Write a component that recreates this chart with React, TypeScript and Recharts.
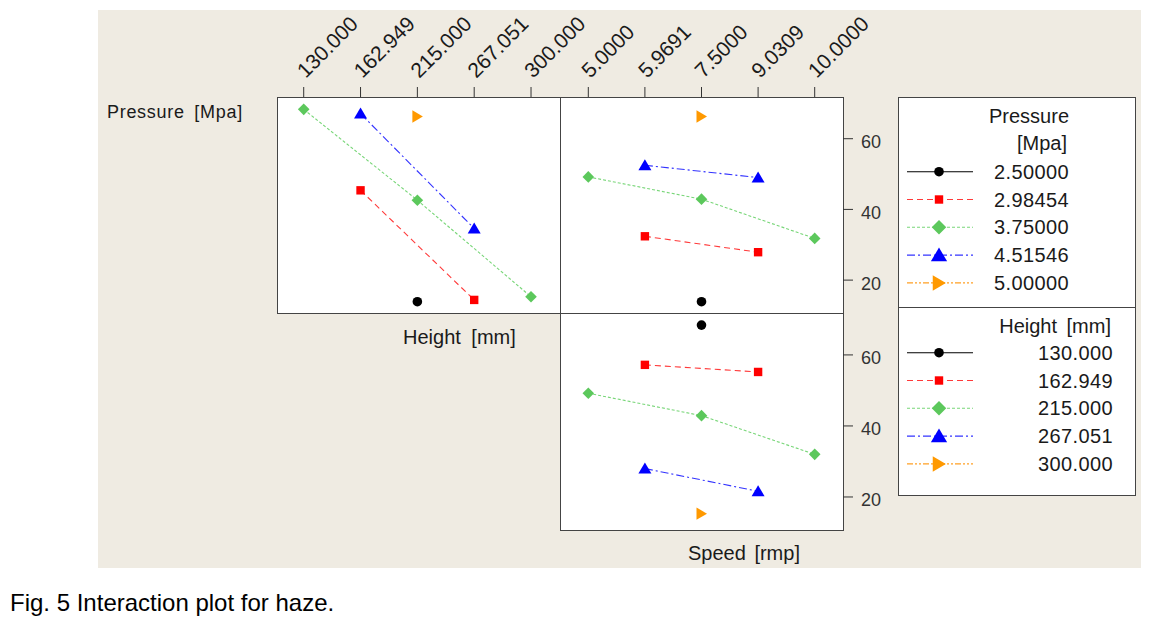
import { Line, LineChart, XAxis, YAxis } from "recharts";

const W = 1158;
const H = 630;
const FONT = '"Liberation Sans", Arial, sans-serif';

// tick labels
const heightTicks = ["130.000", "162.949", "215.000", "267.051", "300.000"];
const speedTicks = ["5.0000", "5.9691", "7.5000", "9.0309", "10.0000"];
const yTicks = [20, 40, 60];

// trace levels
const pressureLevels = ["2.50000", "2.98454", "3.75000", "4.51546", "5.00000"];
const heightLevels = ["130.000", "162.949", "215.000", "267.051", "300.000"];

// haze means, Height on x, one list per Pressure level
const hzHeightP250 = [null, null, 13.9, null, null];
const hzHeightP298 = [null, 45.4, null, 14.4, null];
const hzHeightP375 = [68.3, null, 42.6, null, 15.3];
const hzHeightP452 = [null, 67.1, null, 34.6, null];
const hzHeightP500 = [null, null, 66.3, null, null];

// haze means, Speed on x, one list per Pressure level
const hzSpeedP250 = [null, null, 13.9, null, null];
const hzSpeedP298 = [null, 32.4, null, 27.9, null];
const hzSpeedP375 = [49.2, null, 42.9, null, 31.8];
const hzSpeedP452 = [null, 52.5, null, 49.0, null];
const hzSpeedP500 = [null, null, 66.3, null, null];

// haze means, Speed on x, one list per Height level
const hzSpeedH130 = [null, null, 68.4, null, null];
const hzSpeedH163 = [null, 57.2, null, 55.2, null];
const hzSpeedH215 = [49.2, null, 42.9, null, 32.0];
const hzSpeedH267 = [null, 28.0, null, 21.6, null];
const hzSpeedH300 = [null, null, 15.3, null, null];

type Shape = "circle" | "square" | "diamond" | "triUp" | "triRight";

const STYLES: { marker: string; line: string; dash?: string; shape: Shape }[] = [
  { marker: "#000000", line: "#000000", shape: "circle" },
  { marker: "#ff0000", line: "#ff3a3a", dash: "6 4", shape: "square" },
  { marker: "#5cc85c", line: "#78d678", dash: "3 2", shape: "diamond" },
  { marker: "#0000ff", line: "#3434ff", dash: "8 3 2 3", shape: "triUp" },
  { marker: "#ff9900", line: "#ffa024", dash: "6 2 2 2 2 2", shape: "triRight" },
];

const Y_DOMAIN: [number, number] = [10.7, 71.8];

function buildRows(series: (number | null)[][]) {
  return [0, 1, 2, 3, 4].map((x) => {
    const row: Record<string, number | null> = { x };
    series.forEach((s, i) => (row[`s${i}`] = s[x]));
    return row;
  });
}

function Marker({ cx, cy, shape, color, k = 1 }: { cx: number; cy: number; shape: Shape; color: string; k?: number }) {
  if (shape === "circle") return <circle cx={cx} cy={cy} r={4.8} fill={color} />;
  if (shape === "square") return <rect x={cx - 4.2} y={cy - 4.2} width={8.4} height={8.4} fill={color} />;
  if (shape === "diamond") {
    const d = 5.8 * k;
    return <polygon points={`${cx},${cy - d} ${cx + d},${cy} ${cx},${cy + d} ${cx - d},${cy}`} fill={color} />;
  }
  if (shape === "triUp") {
    return (
      <polygon
        points={`${cx},${cy - 6 * k} ${cx + 6.5 * k},${cy + 5 * k} ${cx - 6.5 * k},${cy + 5 * k}`}
        fill={color}
      />
    );
  }
  return (
    <polygon
      points={`${cx + 5.5 * k},${cy} ${cx - 5 * k},${cy - 6.2 * k} ${cx - 5 * k},${cy + 6.2 * k}`}
      fill={color}
    />
  );
}

// eslint-disable-next-line @typescript-eslint/no-explicit-any
function RotTick({ x, y, payload, labels }: any) {
  const sx = x + 2;
  const sy = y - 6;
  return (
    <text
      x={sx}
      y={sy}
      transform={`rotate(-45 ${sx} ${sy})`}
      textAnchor="start"
      fontSize={21}
      fontFamily={FONT}
      fill="#1a1a1a"
    >
      {labels[payload.value]}
    </text>
  );
}

// eslint-disable-next-line @typescript-eslint/no-explicit-any
function RightTick({ x, y, payload }: any) {
  return (
    <text x={x} y={y + 3} dy="0.36em" textAnchor="start" fontSize={18} fontFamily={FONT} fill="#333">
      {payload.value}
    </text>
  );
}

interface Rect {
  x: number;
  y: number;
  w: number;
  h: number;
}

const TL: Rect = { x: 277, y: 97, w: 283, h: 216 };
const TR: Rect = { x: 560, y: 97, w: 283, h: 216 };
const BR: Rect = { x: 560, y: 313, w: 283, h: 217 };

function Frame({ r }: { r: Rect }) {
  return (
    <div
      style={{
        position: "absolute",
        left: r.x,
        top: r.y,
        width: r.w + 1,
        height: r.h + 1,
        boxSizing: "border-box",
        border: "1px solid #444",
        background: "#fff",
      }}
    />
  );
}

function Panel({
  r,
  series,
  labels,
  xDomain,
  showTop,
  showRight,
}: {
  r: Rect;
  series: (number | null)[][];
  labels: string[];
  xDomain: [number, number];
  showTop: boolean;
  showRight: boolean;
}) {
  const data = buildRows(series);
  const axH = 20;
  const axW = 40;
  return (
    <div style={{ position: "absolute", left: 0, top: 0 }}>
      <LineChart
        width={W}
        height={H}
        data={data}
        margin={{
          top: r.y - (showTop ? axH : 0),
          left: r.x,
          right: W - r.x - r.w - (showRight ? axW : 0),
          bottom: H - r.y - r.h,
        }}
      >
        <XAxis
          type="number"
          dataKey="x"
          orientation="top"
          domain={xDomain}
          ticks={[0, 1, 2, 3, 4]}
          interval={0}
          hide={!showTop}
          height={axH}
          axisLine={false}
          stroke="#333"
          tickSize={10}
          tickMargin={2}
          tick={<RotTick labels={labels} />}
          allowDataOverflow
        />
        <YAxis
          type="number"
          orientation="right"
          domain={Y_DOMAIN}
          ticks={yTicks}
          hide={!showRight}
          width={axW}
          axisLine={false}
          stroke="#333"
          tickSize={10}
          tickMargin={8}
          tick={<RightTick />}
          allowDataOverflow
        />
        {series.map((_, i) => {
          const st = STYLES[i];
          return (
            <Line
              key={i}
              type="linear"
              dataKey={`s${i}`}
              stroke={st.line}
              strokeWidth={1.1}
              strokeDasharray={st.dash}
              connectNulls
              isAnimationActive={false}
              activeDot={false}
              // eslint-disable-next-line @typescript-eslint/no-explicit-any
              dot={(p: any) =>
                p.cy == null || p.value == null ? (
                  <g key={`e${i}-${p.index}`} />
                ) : (
                  <Marker key={`d${i}-${p.index}`} cx={p.cx} cy={p.cy} shape={st.shape} color={st.marker} />
                )
              }
            />
          );
        })}
      </LineChart>
    </div>
  );
}

function LegendBox({
  x,
  y,
  w,
  h,
  titles,
  levels,
  rowY,
  textX,
  anchor,
}: {
  x: number;
  y: number;
  w: number;
  h: number;
  titles: { text: string; x: number; y: number }[];
  levels: string[];
  rowY: number;
  textX: number;
  anchor: "start" | "end";
}) {
  return (
    <g fontFamily={FONT} fill="#1a1a1a">
      <rect x={x + 0.5} y={y + 0.5} width={w} height={h} fill="#fff" stroke="#444" />
      {titles.map((t) => (
        <text key={t.text} x={t.x} y={t.y} textAnchor="end" fontSize={20} style={{ wordSpacing: 4 }}>
          {t.text}
        </text>
      ))}
      {levels.map((lv, i) => {
        const st = STYLES[i];
        const cy = rowY + i * 27.8;
        return (
          <g key={lv}>
            <line x1={907} x2={973} y1={cy} y2={cy} stroke={st.line} strokeWidth={1.1} strokeDasharray={st.dash} />
            <Marker cx={939} cy={cy} shape={st.shape} color={st.marker} k={1.25} />
            <text x={textX} y={cy + 7} textAnchor={anchor} fontSize={20} letterSpacing={0.4}>
              {lv}
            </text>
          </g>
        );
      })}
    </g>
  );
}

export default function App() {
  return (
    <div style={{ position: "absolute", left: 0, top: 0, width: W, height: H, background: "#fff", fontFamily: FONT }}>
      <div style={{ position: "absolute", left: 98, top: 10, width: 1043, height: 558, background: "#efebe2" }} />
      <Frame r={TL} />
      <Frame r={TR} />
      <Frame r={BR} />
      <Panel
        r={TL}
        series={[hzHeightP250, hzHeightP298, hzHeightP375, hzHeightP452, hzHeightP500]}
        labels={heightTicks}
        xDomain={[-0.47, 4.51]}
        showTop
        showRight={false}
      />
      <Panel
        r={TR}
        series={[hzSpeedP250, hzSpeedP298, hzSpeedP375, hzSpeedP452, hzSpeedP500]}
        labels={speedTicks}
        xDomain={[-0.5, 4.5]}
        showTop
        showRight
      />
      <Panel
        r={BR}
        series={[hzSpeedH130, hzSpeedH163, hzSpeedH215, hzSpeedH267, hzSpeedH300]}
        labels={speedTicks}
        xDomain={[-0.5, 4.5]}
        showTop={false}
        showRight
      />
      <svg width={W} height={H} style={{ position: "absolute", left: 0, top: 0 }}>
        <text x={107} y={118} fontSize={18} letterSpacing={0.7} fontFamily={FONT} fill="#1a1a1a" style={{ wordSpacing: 4 }}>
          Pressure [Mpa]
        </text>
        <text x={403} y={344} fontSize={20} fontFamily={FONT} fill="#1a1a1a" style={{ wordSpacing: 5 }}>
          Height [mm]
        </text>
        <text x={688} y={560} fontSize={20} fontFamily={FONT} fill="#1a1a1a" style={{ wordSpacing: 3 }}>
          Speed [rmp]
        </text>
        <LegendBox
          x={898}
          y={97}
          w={237}
          h={210}
          titles={[
            { text: "Pressure", x: 1069, y: 122.5 },
            { text: "[Mpa]", x: 1067, y: 149.5 },
          ]}
          levels={pressureLevels}
          rowY={171.7}
          textX={994}
          anchor="start"
        />
        <LegendBox
          x={898}
          y={307}
          w={237}
          h={188}
          titles={[{ text: "Height [mm]", x: 1111, y: 333 }]}
          levels={heightLevels}
          rowY={352.7}
          textX={1113}
          anchor="end"
        />
        <text x={10} y={611} fontSize={24} fontFamily={FONT} fill="#000">
          Fig. 5 Interaction plot for haze.
        </text>
      </svg>
    </div>
  );
}
